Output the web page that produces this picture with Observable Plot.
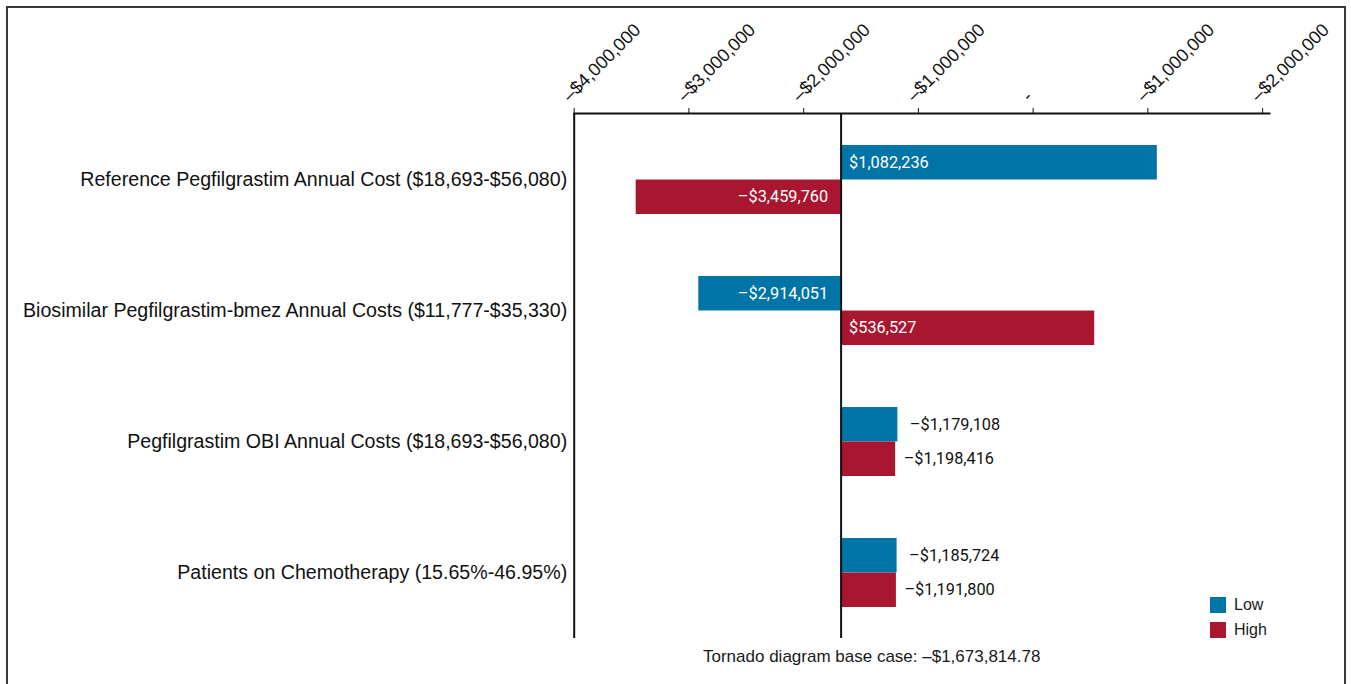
<!DOCTYPE html>
<html>
<head>
<meta charset="utf-8">
<script src="https://cdn.jsdelivr.net/npm/d3@7"></script>
<script src="https://cdn.jsdelivr.net/npm/@observablehq/plot@0.6"></script>
<style>
  html, body { margin: 0; padding: 0; background: #fff; overflow: hidden; }
  body { width: 1351px; height: 684px; position: relative; font-family: "Liberation Sans", Arial, sans-serif; color: #1a1a1a; }
  #border { position: absolute; left: 6px; top: 6px; width: 1336px; height: 720px; border: 2px solid #3a3a3a; border-bottom: none; }
  #chart { position: absolute; left: 0; top: 0; }
  #caption { position: absolute; left: 703px; top: 646px; font-size: 17px; line-height: 22px; white-space: nowrap; }
  #legend { position: absolute; left: 1210px; top: 592px; font-size: 16px; }
  #legend .item { display: flex; align-items: center; height: 25px; }
  #legend .sw { width: 16px; height: 16px; margin-right: 8px; }
</style>
</head>
<body>
<div id="border"></div>
<div id="chart"></div>
<div id="legend"></div>
<div id="caption"></div>
<script>
const categories = [
  "Reference Pegfilgrastim Annual Cost ($18,693-$56,080)",
  "Biosimilar Pegfilgrastim-bmez Annual Costs ($11,777-$35,330)",
  "Pegfilgrastim OBI Annual Costs ($18,693-$56,080)",
  "Patients on Chemotherapy (15.65%-46.95%)"
];
const lowValues = [1082236, -2914051, -1179108, -1185724];
const highValues = [-3459760, 536527, -1198416, -1191800];
const baseCase = -1673814.78;
const seriesNames = ["Low", "High"];
const seriesColors = ["#0073a7", "#a9162f"];
const tickValues = [-4000000, -3000000, -2000000, -1000000, 0, 1000000, 2000000];
const tickLabels = ["–$4,000,000", "–$3,000,000", "–$2,000,000", "–$1,000,000", "-", "–$1,000,000", "–$2,000,000"];
const captionText = "Tornado diagram base case: –$1,673,814.78";

const fmt = d3.format(",.0f");
const money = v => (v < 0 ? "–$" : "$") + fmt(Math.abs(v));

const rows = [];
categories.forEach((c, i) => {
  rows.push({cat: c, series: "Low", value: lowValues[i]});
  rows.push({cat: c, series: "High", value: highValues[i]});
});
const inside = r => Math.abs(r.value - baseCase) > 1000000;

const W = 1351, H = 645, mT = 113, mB = 7;
const half = (H - mT - mB) / 4 * (1 - 0.474) / 2;
const off = {Low: -half / 2, High: half / 2};
const valueFont = "Roboto, Liberation Sans, sans-serif";

const labelMarks = [];
for (const s of seriesNames) {
  const sub = rows.filter(r => r.series === s);
  const inRight = sub.filter(r => inside(r) && r.value > baseCase);
  const inLeft = sub.filter(r => inside(r) && r.value <= baseCase);
  const outRight = sub.filter(r => !inside(r));
  labelMarks.push(
    Plot.text(inRight, {x: () => baseCase, y: "cat", text: d => money(d.value), dy: off[s], dx: 8, textAnchor: "start", fill: "white", fontSize: 16.3, fontFamily: valueFont}),
    Plot.text(inLeft, {x: () => baseCase, y: "cat", text: d => money(d.value), dy: off[s], dx: -13, textAnchor: "end", fill: "white", fontSize: 16.3, fontFamily: valueFont}),
    Plot.text(outRight, {x: "value", y: "cat", text: d => money(d.value), dy: off[s], dx: s === "Low" ? 12 : 8, textAnchor: "start", fill: "#111", fontSize: 16.3, fontFamily: valueFont})
  );
}

const chart = Plot.plot({
  width: W, height: H,
  marginLeft: 573.7, marginRight: 82, marginTop: mT, marginBottom: mB,
  style: {fontFamily: "Liberation Sans, Arial, sans-serif", fontSize: "19.6px", color: "#111", background: "transparent"},
  x: {domain: [-4000000, 2060000], axis: "top", ticks: tickValues, tickSize: 6, tickFormat: () => "", label: null},
  y: {domain: categories, paddingInner: 0.474, paddingOuter: 0.237, label: null, tickSize: 0, tickPadding: 7},
  color: {domain: seriesNames, range: seriesColors},
  marks: [
    Plot.barX(rows.filter(r => r.series === "Low"), {x1: () => baseCase, x2: "value", y: "cat", fill: "series", insetBottom: half}),
    Plot.barX(rows.filter(r => r.series === "High"), {x1: () => baseCase, x2: "value", y: "cat", fill: "series", insetTop: half}),
    Plot.frame({anchor: "top", stroke: "#111", strokeWidth: 2}),
    Plot.ruleX([tickValues[0]], {stroke: "#111", strokeWidth: 2}),
    Plot.ruleX([baseCase], {stroke: "#111", strokeWidth: 2}),
    Plot.text(tickValues, {x: d => d, text: (d, i) => tickLabels[i], frameAnchor: "top", rotate: -45, textAnchor: "start", lineAnchor: "bottom", dx: -4, dy: -11, fontSize: 18.2, fill: "#111"}),
    ...labelMarks
  ]
});
document.getElementById("chart").appendChild(chart);

document.getElementById("caption").textContent = captionText;
const legend = d3.select("#legend");
seriesNames.forEach((s, i) => {
  const it = legend.append("div").attr("class", "item");
  it.append("div").attr("class", "sw").style("background", seriesColors[i]);
  it.append("span").text(s);
});
</script>
</body>
</html>
